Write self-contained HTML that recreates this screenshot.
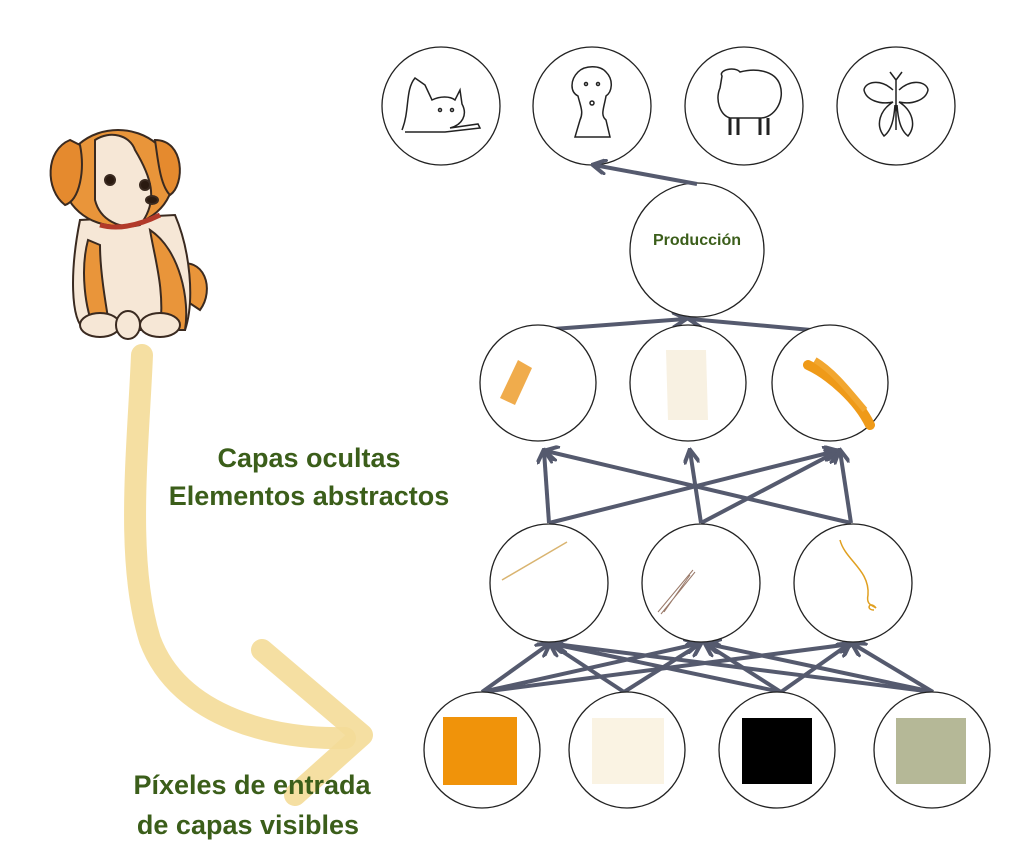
<!DOCTYPE html>
<html><head><meta charset="utf-8"><style>
html,body{margin:0;padding:0;background:#fff;}
svg{display:block}
text{font-family:"Liberation Sans",sans-serif;}
</style></head><body>
<svg width="1024" height="858" viewBox="0 0 1024 858" xmlns="http://www.w3.org/2000/svg">
<defs>
<marker id="ah" viewBox="0 0 10 10" refX="8" refY="5" markerWidth="4" markerHeight="4" orient="auto-start-reverse">
<path d="M0,0 L9,5 L0,10" fill="none" stroke="#555a6e" stroke-width="2.5"/>
</marker>
</defs>

<!-- yellow arrow -->
<path d="M142,355 C138,450 125,560 150,640 C180,720 280,740 345,738" fill="none" stroke="#f4dc98" stroke-width="22" stroke-linecap="round" opacity="0.9"/>
<path d="M262,650 L362,735 L295,795" fill="none" stroke="#f4dc98" stroke-width="22" stroke-linecap="round" stroke-linejoin="round" opacity="0.9"/>

<!-- dog illustration -->
<g stroke="#3a2a20" stroke-width="2">
<path d="M175,265 C205,255 215,290 200,310 L185,300 Z" fill="#e9953a"/>
<path d="M80,220 C70,270 70,320 85,330 L185,330 C195,300 190,250 175,215 Z" fill="#f6e7d6"/>
<path d="M150,230 C180,250 190,300 185,330 L160,330 C165,290 155,260 150,230 Z" fill="#e9953a"/>
<path d="M88,240 C80,270 85,310 95,330 L110,330 C105,300 100,270 100,245 Z" fill="#e9953a"/>
<ellipse cx="100" cy="325" rx="20" ry="12" fill="#f6e7d6"/>
<ellipse cx="160" cy="325" rx="20" ry="12" fill="#f6e7d6"/>
<ellipse cx="128" cy="325" rx="12" ry="14" fill="#f6e7d6"/>
<ellipse cx="118" cy="178" rx="55" ry="48" fill="#e9953a"/>
<path d="M95,140 C110,130 130,135 135,150 C150,175 160,200 140,225 C120,230 100,220 95,200 Z" fill="#f6e7d6"/>
<path d="M70,140 C45,150 45,190 65,205 C80,200 85,170 80,145 Z" fill="#e58a2e"/>
<path d="M155,140 C185,140 185,185 170,195 C160,185 158,160 155,140 Z" fill="#e58a2e"/>
<path d="M100,225 Q125,232 160,215" fill="none" stroke="#b23a2a" stroke-width="5"/>
<circle cx="110" cy="180" r="5" fill="#2a1a10"/>
<circle cx="145" cy="185" r="5" fill="#2a1a10"/>
<ellipse cx="152" cy="200" rx="6" ry="4" fill="#2a1a10"/>
</g>

<!-- labels -->
<g fill="#3b5e1a" font-size="27" font-weight="bold" text-anchor="middle">
<text x="309" y="467">Capas ocultas</text>
<text x="309" y="505">Elementos abstractos</text>
<text x="252" y="794">Píxeles de entrada</text>
<text x="248" y="834">de capas visibles</text>
</g>

<!-- connectors -->
<g stroke="#555a6e" stroke-width="4" fill="none" marker-end="url(#ah)">
<line x1="540" y1="330" x2="685" y2="319"/>
<line x1="822" y1="331" x2="690" y2="319"/>
<line x1="549" y1="523" x2="544" y2="451"/>
<line x1="549" y1="523" x2="836" y2="451"/>
<line x1="701" y1="523" x2="690" y2="451"/>
<line x1="701" y1="523" x2="838" y2="451"/>
<line x1="851" y1="523" x2="840" y2="451"/>
<line x1="851" y1="523" x2="546" y2="451"/>
<line x1="482" y1="692" x2="549" y2="644"/>
<line x1="482" y1="692" x2="697" y2="644"/>
<line x1="482" y1="692" x2="851" y2="644"/>
<line x1="624" y1="692" x2="551" y2="644"/>
<line x1="624" y1="692" x2="700" y2="644"/>
<line x1="781" y1="692" x2="553" y2="644"/>
<line x1="781" y1="692" x2="706" y2="644"/>
<line x1="781" y1="692" x2="849" y2="644"/>
<line x1="933" y1="692" x2="555" y2="644"/>
<line x1="933" y1="692" x2="708" y2="644"/>
<line x1="933" y1="692" x2="853" y2="644"/>
</g>

<!-- circles -->
<g fill="#fff" stroke="#222" stroke-width="1.3">
<circle cx="441" cy="106" r="59"/>
<circle cx="592" cy="106" r="59"/>
<circle cx="744" cy="106" r="59"/>
<circle cx="896" cy="106" r="59"/>
<circle cx="697" cy="250" r="67"/>
<circle cx="538" cy="383" r="58"/>
<circle cx="688" cy="383" r="58"/>
<circle cx="830" cy="383" r="58"/>
<circle cx="549" cy="583" r="59"/>
<circle cx="701" cy="583" r="59"/>
<circle cx="853" cy="583" r="59"/>
<circle cx="482" cy="750" r="58"/>
<circle cx="627" cy="750" r="58"/>
<circle cx="777" cy="750" r="58"/>
<circle cx="932" cy="750" r="58"/>
</g>
<g stroke="#555a6e" stroke-width="4" fill="none" marker-end="url(#ah)">
<line x1="697" y1="184" x2="594" y2="165"/>
</g>

<text x="697" y="245" text-anchor="middle" font-size="16" font-weight="bold" fill="#3b5e1a">Producción</text>

<!-- animal sketches -->
<g fill="none" stroke="#222" stroke-width="1.5">
<path d="M402,130 C410,110 405,90 415,78 L425,85 L432,100 C440,96 450,96 455,100 L460,90 L462,104 C468,115 462,125 450,128 L478,124 L480,128 L445,132 L405,132"/>
<circle cx="440" cy="110" r="1.5"/><circle cx="452" cy="110" r="1.5"/>
<path d="M578,72 C585,65 600,65 606,72 C614,80 612,92 606,96 C604,108 600,115 606,120 L610,137 L575,137 L580,120 C584,112 580,105 578,96 C570,92 570,80 578,72 Z"/>
<circle cx="586" cy="84" r="1.5"/><circle cx="598" cy="84" r="1.5"/><circle cx="592" cy="103" r="2"/>
<path d="M722,76 C718,70 735,66 740,72 C755,68 775,70 780,85 C785,100 775,118 760,118 L730,118 C720,115 715,100 720,88 Z"/>
<path d="M730,118 V135 M738,118 V135 M760,118 V135 M768,118 V135" stroke-width="3"/>
<path d="M896,80 V130 M896,80 L890,72 M896,80 L902,72 M893,90 C880,78 865,82 864,90 C866,100 880,105 893,102 C880,110 875,125 884,136 C892,130 894,118 895,105 M899,90 C912,78 927,82 928,90 C926,100 912,105 899,102 C912,110 917,125 908,136 C900,130 898,118 897,105"/>
</g>

<!-- brush strokes layer 2 -->
<path d="M500,398 L518,360 L532,368 L515,405 Z" fill="#eea338" opacity="0.9"/>
<path d="M666,350 L706,350 L708,420 L668,420 Z" fill="#f8f1e2"/>
<path d="M808,365 C830,375 858,400 870,425" stroke="#ef9a18" stroke-width="10" fill="none" stroke-linecap="round"/>
<path d="M815,360 C835,372 852,395 865,410" stroke="#f2a730" stroke-width="6" fill="none"/>

<!-- strokes layer 3 -->
<path d="M502,580 L567,542" stroke="#d9b470" stroke-width="1.5"/>
<path d="M658,612 L693,570 M661,614 L695,572 M664,612 L690,575" stroke="#9a7a6a" stroke-width="1"/>
<path d="M840,540 C845,560 870,570 868,595 C866,605 872,605 876,608 C870,600 865,610 874,610" stroke="#e0a020" stroke-width="1.5" fill="none"/>

<!-- input squares -->
<rect x="443" y="717" width="74" height="68" fill="#f0930a"/>
<rect x="592" y="718" width="72" height="66" fill="#faf3e3"/>
<rect x="742" y="718" width="70" height="66" fill="#000"/>
<rect x="896" y="718" width="70" height="66" fill="#b5b897"/>
</svg>
</body></html>
